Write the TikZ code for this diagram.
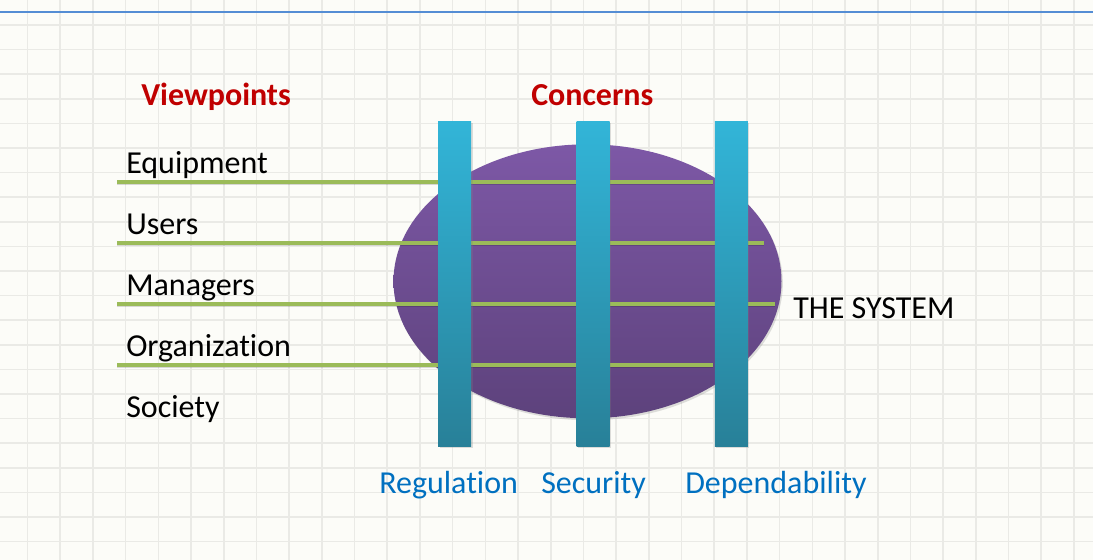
\documentclass[tikz,border=0pt]{standalone}
\usepackage{fontspec}
\setmainfont[RawFeature={-liga,-clig,-dlig}]{Carlito}
\usetikzlibrary{shapes.geometric,shadows}

\definecolor{paper}{RGB}{252,252,248}
\definecolor{gridgray}{RGB}{234,234,230}
\definecolor{topblue}{RGB}{84,141,212}
\definecolor{headred}{RGB}{192,0,0}
\definecolor{labelblue}{RGB}{0,112,192}
\definecolor{barlight}{RGB}{50,181,216}
\definecolor{bardark}{RGB}{40,128,152}
\definecolor{syslight}{RGB}{125,88,166}
\definecolor{sysdark}{RGB}{93,66,124}
\definecolor{viewgreen}{RGB}{155,187,89}

\tikzset{
	heading/.style={anchor=base west, inner sep=0pt, text=headred, font=\fontsize{24}{28}\selectfont\bfseries},
	viewlabel/.style={anchor=base west, inner sep=0pt, text=black},
	concernlabel/.style={anchor=base west, inner sep=0pt, text=labelblue},
	concernbar/.style={rectangle, inner sep=0pt, minimum width=24.75pt, minimum height=243.75pt, top color=barlight, bottom color=bardark, drop shadow={opacity=0.25, shadow xshift=1pt, shadow yshift=-1pt}},
	viewline/.style={viewgreen, line width=2.3pt}
}

\begin{document}
\begin{tikzpicture}[x=0.75pt, y=-0.75pt, font=\fontsize{24}{28}\selectfont]
		\useasboundingbox (0,0) rectangle (1093,560);
		\fill[paper] (0,0) rectangle (1093,560);
		% squared paper
		\foreach \gx in {0,...,32}
		{\draw[gridgray, line width=1.2pt] ({27.5+32.7*\gx},0) -- ({27.5+32.7*\gx},560);}
		\foreach \gy in {1,...,22}
		{\draw[gridgray, line width=1.2pt] (0,{0.4+24.6*\gy}) -- (1093,{0.4+24.6*\gy});}
		\draw[topblue, line width=1pt] (0,12) -- (1093,12);
		% the system
		\node[ellipse, inner sep=0pt, minimum width=291pt, minimum height=205.5pt, top color=syslight, bottom color=sysdark, drop shadow={opacity=0.25, shadow xshift=1pt, shadow yshift=-1.5pt}] (sys) at (587.5,281.3) {};
		\node[viewlabel] (sysname) at (793,318) {THE SYSTEM};
		% viewpoints
		\node[heading] (vp) at (141,106) {Viewpoints};
		\foreach \y /\alph/\name in {
			173/equip/Equipment,
			234/users/Users,
			295/mgr/Managers,
			356/org/Organization,
			417/soc/Society
		}{
			\node[viewlabel] (\alph) at (126,\y) {\name};
		}
		\foreach \y /\alph/\xend in {
			182/equip/713,
			243/users/764,
			304/mgr/775,
			365/org/713
		}{
			\coordinate (\alph w) at (117,\y);
			\coordinate (\alph e) at (\xend,\y);
			\draw[black, opacity=0.15, line width=2pt] ([yshift=-1pt]\alph w) -- ([yshift=-1pt]\alph e);
			\draw[viewline] (\alph w) -- (\alph e);
		}
		% concerns
		\node[heading] (cc) at (531,106) {Concerns};
		\foreach \x /\alph/\name/\lx in {
			454.7/reg/Regulation/379,
			593/sec/Security/541,
			731.3/dep/Dependability/685
		}{
			\node[concernbar] (\alph) at (\x,284.2) {};
			\node[concernlabel] (\alph txt) at (\lx,493) {\name};
		}
\end{tikzpicture}
\end{document}
